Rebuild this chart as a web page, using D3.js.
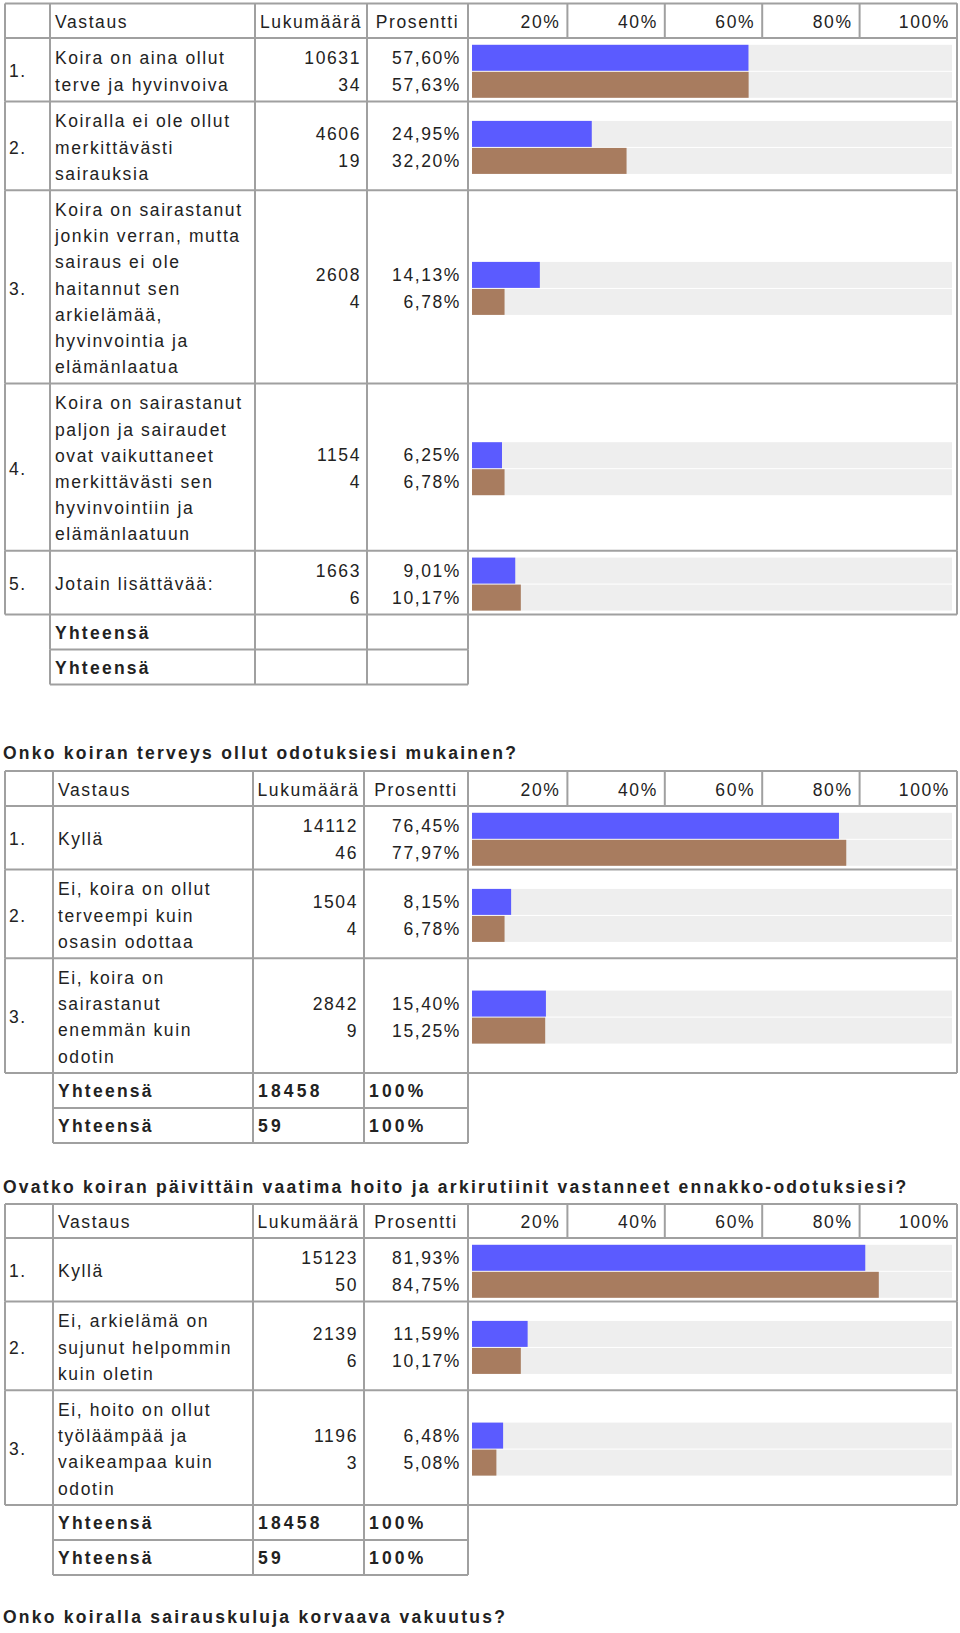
<!DOCTYPE html>
<html>
<head>
<meta charset="utf-8">
<script src="https://cdn.jsdelivr.net/npm/d3@7"></script>
<style>
  html, body { margin: 0; padding: 0; background: #fff; }
  svg { display: block; }
  text { font-family: "Liberation Sans", Arial, Helvetica, sans-serif; fill: #222; }
</style>
</head>
<body>
<svg id="chart" width="960" height="1633"></svg>
<script>
// ---------------- DATA ----------------
const headerLabels = ["Vastaus", "Lukumäärä", "Prosentti"];
const tickValues = [20, 40, 60, 80, 100];
const totalLabel = "Yhteensä";

// Table 1 (question title above the page top)
const t1Numbers = ["1.", "2.", "3.", "4.", "5."];
const t1Answers = [
  ["Koira on aina ollut", "terve ja hyvinvoiva"],
  ["Koiralla ei ole ollut", "merkittävästi", "sairauksia"],
  ["Koira on sairastanut", "jonkin verran, mutta", "sairaus ei ole", "haitannut sen", "arkielämää,", "hyvinvointia ja", "elämänlaatua"],
  ["Koira on sairastanut", "paljon ja sairaudet", "ovat vaikuttaneet", "merkittävästi sen", "hyvinvointiin ja", "elämänlaatuun"],
  ["Jotain lisättävää:"]
];
const t1CountsA = [10631, 4606, 2608, 1154, 1663];
const t1PctA    = [57.60, 24.95, 14.13, 6.25, 9.01];
const t1CountsB = [34, 19, 4, 4, 6];
const t1PctB    = [57.63, 32.20, 6.78, 6.78, 10.17];
const t1Totals  = [null, null];
const t1TotalPct = [null, null];

// Table 2
const t2Title = "Onko koiran terveys ollut odotuksiesi mukainen?";
const t2Numbers = ["1.", "2.", "3."];
const t2Answers = [
  ["Kyllä"],
  ["Ei, koira on ollut", "terveempi kuin", "osasin odottaa"],
  ["Ei, koira on", "sairastanut", "enemmän kuin", "odotin"]
];
const t2CountsA = [14112, 1504, 2842];
const t2PctA    = [76.45, 8.15, 15.40];
const t2CountsB = [46, 4, 9];
const t2PctB    = [77.97, 6.78, 15.25];
const t2Totals  = [18458, 59];
const t2TotalPct = [100, 100];

// Table 3
const t3Title = "Ovatko koiran päivittäin vaatima hoito ja arkirutiinit vastanneet ennakko-odotuksiesi?";
const t3Numbers = ["1.", "2.", "3."];
const t3Answers = [
  ["Kyllä"],
  ["Ei, arkielämä on", "sujunut helpommin", "kuin oletin"],
  ["Ei, hoito on ollut", "työläämpää ja", "vaikeampaa kuin", "odotin"]
];
const t3CountsA = [15123, 2139, 1196];
const t3PctA    = [81.93, 11.59, 6.48];
const t3CountsB = [50, 6, 3];
const t3PctB    = [84.75, 10.17, 5.08];
const t3Totals  = [18458, 59];
const t3TotalPct = [100, 100];

// Next question (only title visible)
const t4Title = "Onko koiralla sairauskuluja korvaava vakuutus?";

// ---------------- LAYOUT / STYLE ----------------
const svg = d3.select("#chart");
const FS = 17.5;
const LS_N = 1.6, LS_B = 2.25, LS_BNUM = 3.2;
const LINE_H = 26.2, NUM_H = 27, PAD = 10;
const TOTAL_H = 35;
const BORDER = "#a0a0a0", BW = 2;
const COL_A = "#5b5bff", COL_B = "#a87c5f", COL_BG = "#eeeeee";

const xBar = d3.scaleLinear().domain([0, 100]).range([472, 952]);
const xHead = d3.scaleLinear().domain([0, 100]).range([470, 957]);

const fmtPct = v => d3.format(".2f")(v).replace(".", ",") + "%";
const fmtTotPct = v => d3.format("d")(v) + "%";

function txt(g, x, y, s, opts = {}) {
  return g.append("text")
    .attr("x", x).attr("y", y).attr("dy", "0.35em")
    .attr("font-size", FS)
    .attr("font-weight", opts.bold ? "bold" : "normal")
    .attr("letter-spacing", opts.ls !== undefined ? opts.ls : (opts.bold ? LS_B : LS_N))
    .attr("text-anchor", opts.anchor || "start")
    .text(s);
}
function hline(g, x1, x2, y) {
  g.append("line").attr("x1", x1).attr("x2", x2).attr("y1", y).attr("y2", y)
    .attr("stroke", BORDER).attr("stroke-width", BW);
}
function vline(g, x, y1, y2) {
  g.append("line").attr("x1", x).attr("x2", x).attr("y1", y1).attr("y2", y2)
    .attr("stroke", BORDER).attr("stroke-width", BW);
}

function drawTable(cfg) {
  const { top, headerH, cols, numbers, answers, countsA, pctA, countsB, pctB, totals, totalPct } = cfg;
  const g = svg.append("g");
  const lineG = svg.append("g");
  const right = cols[5];

  // header
  const hTop = top, hBot = top + headerH, hMid = (hTop + hBot) / 2 + 1;
  txt(g, cols[1] + 5, hMid, headerLabels[0]);
  txt(g, (cols[2] + cols[3]) / 2, hMid, headerLabels[1], { anchor: "middle" });
  txt(g, (cols[3] + cols[4]) / 2, hMid, headerLabels[2], { anchor: "middle" });
  tickValues.forEach(t => {
    txt(g, xHead(t) - 7, hMid, t + "%", { anchor: "end" });
  });
  hline(lineG, cols[0], right, hTop);
  hline(lineG, cols[0], right, hBot);
  cols.forEach(c => vline(lineG, c, hTop, hBot));
  tickValues.forEach(t => vline(lineG, xHead(t), hTop, hBot));

  // data rows
  let y = hBot;
  answers.forEach((lines, i) => {
    const n = Math.max(lines.length, 2);
    const h = n * LINE_H + PAD + (lines.length <= 2 ? 1.2 : 0);
    const c = y + h / 2 + 1.5;
    txt(g, cols[0] + 4, c, numbers[i]);
    lines.forEach((s, j) => {
      txt(g, cols[1] + 5, c + (j - (lines.length - 1) / 2) * LINE_H, s);
    });
    const yA = c - NUM_H / 2, yB = c + NUM_H / 2;
    txt(g, cols[3] - 6, yA, d3.format("d")(countsA[i]), { anchor: "end" });
    txt(g, cols[3] - 6, yB, d3.format("d")(countsB[i]), { anchor: "end" });
    txt(g, cols[4] - 7, yA, fmtPct(pctA[i]), { anchor: "end" });
    txt(g, cols[4] - 7, yB, fmtPct(pctB[i]), { anchor: "end" });
    const bh = 26;
    [[yA, pctA[i], COL_A], [yB, pctB[i], COL_B]].forEach(([yy, v, col]) => {
      g.append("rect").attr("x", xBar(0)).attr("y", yy - bh / 2)
        .attr("width", xBar(100) - xBar(0)).attr("height", bh).attr("fill", COL_BG);
      g.append("rect").attr("x", xBar(0)).attr("y", yy - bh / 2)
        .attr("width", xBar(v) - xBar(0)).attr("height", bh).attr("fill", col);
    });
    cols.forEach(cx => vline(lineG, cx, y, y + h));
    y += h;
    hline(lineG, cols[0], right, y);
  });

  // totals rows
  totals.forEach((tv, k) => {
    const c = y + TOTAL_H / 2 + 0.5;
    txt(g, cols[1] + 5, c, totalLabel, { bold: true });
    if (tv !== null) txt(g, cols[2] + 5, c, d3.format("d")(tv), { bold: true, ls: LS_BNUM });
    if (totalPct[k] !== null) txt(g, cols[3] + 5, c, fmtTotPct(totalPct[k]), { bold: true, ls: LS_BNUM });
    [1, 2, 3, 4].forEach(ci => vline(lineG, cols[ci], y, y + TOTAL_H));
    y += TOTAL_H;
    hline(lineG, cols[1], cols[4], y);
  });
  return y;
}

function drawTitle(y, s) {
  txt(svg, 3, y, s, { bold: true });
}

drawTable({
  top: 3.5, headerH: 34.5, cols: [5, 50, 255, 367, 468, 957],
  numbers: t1Numbers, answers: t1Answers,
  countsA: t1CountsA, pctA: t1PctA, countsB: t1CountsB, pctB: t1PctB,
  totals: t1Totals, totalPct: t1TotalPct
});

drawTitle(753, t2Title);
drawTable({
  top: 771, headerH: 35, cols: [5, 53, 253, 364, 468, 957],
  numbers: t2Numbers, answers: t2Answers,
  countsA: t2CountsA, pctA: t2PctA, countsB: t2CountsB, pctB: t2PctB,
  totals: t2Totals, totalPct: t2TotalPct
});

drawTitle(1187, t3Title);
drawTable({
  top: 1204, headerH: 34, cols: [5, 53, 253, 364, 468, 957],
  numbers: t3Numbers, answers: t3Answers,
  countsA: t3CountsA, pctA: t3PctA, countsB: t3CountsB, pctB: t3PctB,
  totals: t3Totals, totalPct: t3TotalPct
});

drawTitle(1617, t4Title);
</script>
</body>
</html>
